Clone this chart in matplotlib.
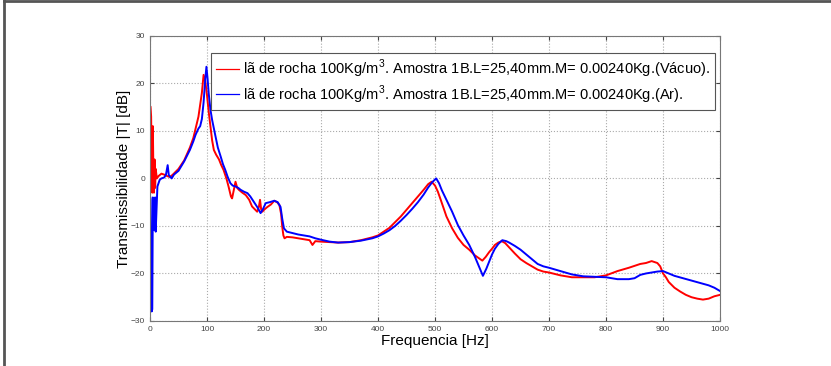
import numpy as np
import matplotlib.pyplot as plt
from matplotlib.lines import Line2D

# red trace: vacuum
red_f = [1, 2, 3, 4, 5, 6, 7, 8, 9, 10, 12, 15, 20, 25, 30, 35, 40, 50, 60, 70, 76, 80, 85, 88, 91,
         94, 97, 100, 103, 106, 109, 112, 116, 121, 125, 129, 134, 138, 142, 144, 147, 150, 153, 156,
         162, 168, 174, 179, 184, 188, 191, 193, 195, 197, 201, 206, 212, 218, 223, 227, 230, 232, 234,
         236, 240, 250, 260, 270, 280, 285, 290, 300, 315, 330, 350, 370, 390, 400, 410, 420, 430, 440,
         450, 460, 470, 480, 488, 494, 500, 505, 510, 520, 530, 540, 550, 560, 570, 577, 583, 589, 595,
         600, 605, 611, 617, 623, 630, 640, 650, 660, 670, 680, 690, 700, 720, 740, 760, 780, 800, 820,
         840, 860, 870, 880, 890, 895, 900, 905, 910, 920, 930, 940, 950, 960, 970, 980, 990, 1000]
red_db = [15, 13, 2, -3, 11, 1, -3, 4, -2, 2, 0, 0.5, 1, 0.8, 0.5, 0.3, 0.8, 2, 3.8, 6.5, 8.5, 10.5, 13, 15.5, 18,
          21.8, 20.5, 17.5, 14, 11, 8, 6, 5, 4, 2.8, 1.8, 0, -1.8, -3.8, -4.2, -2.5, -0.7, -2, -2.4,
          -3, -3.5, -4.5, -5.9, -6.5, -7, -6, -4.5, -6.5, -7, -6.5, -6, -5.5, -4.7, -5, -5.6, -7.5, -10.2, -12,
          -12.6, -12.3, -12.4, -12.6, -12.8, -13, -14, -13.2, -13.3, -13.4, -13.5, -13.4, -13, -12.4, -12, -11.2, -10.4, -9.2, -8,
          -6.6, -5.2, -3.8, -2.4, -1.2, -0.7, -1.5, -2.8, -4.5, -8, -10.5, -12.5, -14, -15, -16.2, -16.8, -17.3, -16.5, -15.5,
          -14.8, -14, -13.5, -13.2, -13.6, -14.5, -15.8, -17, -17.8, -18.5, -19.2, -19.6, -19.8, -20.4, -20.8, -20.8, -20.8, -20.4, -19.5,
          -18.8, -18, -17.8, -17.4, -17.8, -18.5, -20, -20.8, -21.8, -23, -23.8, -24.5, -25, -25.3, -25.5, -25.3, -24.8, -24.5]

# blue trace: air
blue_f = [0.5, 1, 2, 3, 4, 5, 6, 7, 8, 9, 10, 11, 13, 15, 17, 20, 25, 28, 31, 33, 36, 38, 42, 50, 60, 70, 76,
          80, 85, 88, 91, 94, 97, 99, 101, 103, 106, 109, 112, 115, 119, 124, 128, 132, 136, 141, 145, 150,
          155, 159, 165, 171, 176, 182, 188, 194, 198, 203, 210, 218, 224, 229, 232, 235, 240, 250, 260, 270,
          280, 290, 300, 315, 330, 350, 370, 390, 400, 410, 420, 430, 440, 450, 460, 470, 480, 488, 495, 502,
          507, 512, 520, 530, 540, 550, 560, 570, 577, 584, 590, 595, 600, 605, 611, 618, 625, 630, 640, 650,
          660, 670, 680, 690, 700, 720, 740, 760, 780, 800, 820, 840, 850, 860, 870, 880, 890, 900, 910, 920,
          935, 950, 965, 980, 990, 1000]
blue_db = [-4, -4.5, -23.5, -28, -27.5, -4, -6, -10.8, -5, -4, -11.2, -8, -1.7, -1, -0.3, 0, 0.2, 0.8, 2.8, 0.7, 0.3, 0, 0.8, 1.6, 3.6, 6, 7.8,
           9.2, 10.5, 11, 12.5, 16, 21, 23.5, 21, 17.9, 14.5, 12.3, 10.5, 8.8, 6.5, 4.6, 3, 1.8, 0.4, -1, -1.5, -1.7,
           -2, -2.4, -2.8, -3.1, -3.8, -4.9, -6, -7.3, -6.5, -5.2, -5, -4.7, -5, -6, -8.5, -10.5, -11.2, -11.5, -11.8, -12,
           -12.2, -12.6, -12.9, -13.3, -13.5, -13.4, -13.1, -12.6, -12.2, -11.6, -10.9, -10, -8.9, -7.7, -6.4, -5, -3.4, -1.9, -0.8, 0,
           -1, -2.5, -4.5, -7, -9.8, -12, -14, -16.5, -18.5, -20.5, -19, -17.5, -16, -14.8, -13.8, -13, -13.2, -13.5, -14.2, -15,
           -16, -17, -18, -18.5, -18.8, -19.5, -20.2, -20.6, -20.7, -20.8, -21.2, -21.2, -21, -20.3, -20, -19.8, -19.6, -19.5, -20, -20.5,
           -21, -21.5, -22, -22.5, -23, -23.7]

labels = ['lã de rocha 100Kg/m$^3$. Amostra 1B.L=25,40mm.M= 0.00240Kg.(Vácuo).',
          'lã de rocha 100Kg/m$^3$. Amostra 1B.L=25,40mm.M= 0.00240Kg.(Ar).']

plt.rcParams['font.family'] = ['Liberation Sans', 'DejaVu Sans']
plt.rcParams['mathtext.fontset'] = 'custom'
plt.rcParams['mathtext.rm'] = 'Liberation Sans'

fig = plt.figure(figsize=(8.31, 3.66), dpi=100)
ax = fig.add_axes([0.1805, 0.123, 0.686, 0.779])

ax.plot(red_f, red_db, color='#ff0000', lw=1.4, label=labels[0])
ax.plot(blue_f, blue_db, color='#0000ff', lw=1.4, label=labels[1])

ax.set_xlim(0, 1000)
ax.set_ylim(-30, 30)
ax.set_xticks(np.arange(0, 1001, 100))
ax.set_yticks(np.arange(-30, 31, 10))
ax.grid(True, linestyle=':', color='#aaaaaa', lw=0.8)
ax.tick_params(direction='in', length=3, labelsize=6, colors='#444444', top=True, right=True)
for s in ax.spines.values():
    s.set_color('#777777')

ax.set_xlabel('Frequencia [Hz]', fontsize=11, labelpad=1)
ax.set_ylabel('Transmissibilidade |T| [dB]', fontsize=11, labelpad=0)

leg = ax.legend(loc='upper right', bbox_to_anchor=(0.991, 0.94), fontsize=10.5, handlelength=1.6,
                handletextpad=0.3, borderpad=0.3, labelspacing=0.25, fancybox=False, framealpha=1,
                borderaxespad=0)
leg.get_frame().set_edgecolor('#555555')
leg.get_frame().set_linewidth(0.8)
for h in leg.get_lines():
    h.set_linewidth(0.9)

# picture frame at top and left
fig.add_artist(Line2D([0.005, 1], [0.996, 0.996], color='#555555', lw=2, transform=fig.transFigure))
fig.add_artist(Line2D([0.005, 0.005], [0, 0.996], color='#555555', lw=2, transform=fig.transFigure))

fig.savefig('out.png', dpi=100)
